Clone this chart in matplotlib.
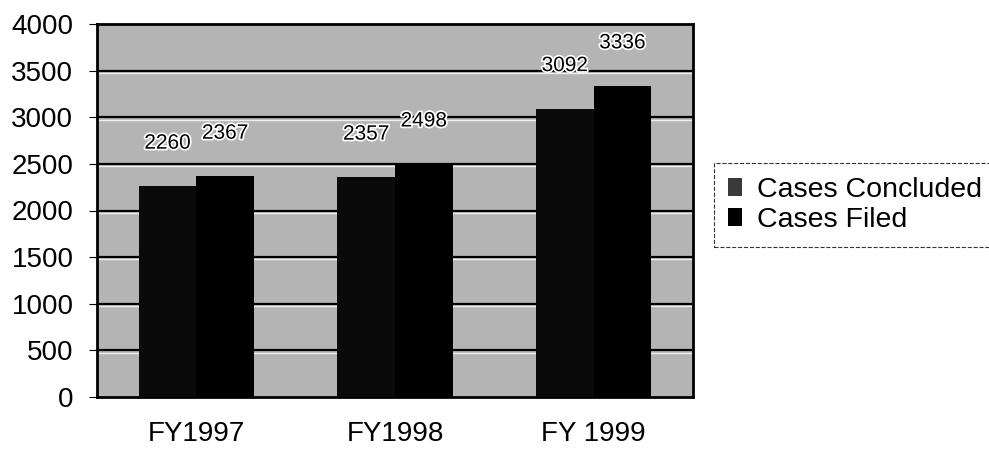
import numpy as np
import matplotlib
matplotlib.use('Agg')
import matplotlib.pyplot as plt
import matplotlib.patheffects as pe

years = ['FY1997', 'FY1998', 'FY 1999']
concluded = [2260, 2357, 3092]
filed = [2367, 2498, 3336]
yticks = [0, 500, 1000, 1500, 2000, 2500, 3000, 3500, 4000]

plt.rcParams['font.family'] = ['Liberation Sans', 'DejaVu Sans']

fig = plt.figure(figsize=(9.89, 4.5), dpi=100)
ax = fig.add_axes([97 / 989, 1 - 397 / 450, 596 / 989, 373 / 450])
ax.set_facecolor('#b4b4b4')

x = np.arange(len(years))
w = 0.29
b1 = ax.bar(x - w / 2, concluded, w, color='#0a0a0a', label='Cases Concluded', zorder=3)
b2 = ax.bar(x + w / 2, filed, w, color='black', label='Cases Filed', zorder=3)

for bars, vals in ((b1, concluded), (b2, filed)):
    for r, v in zip(bars, vals):
        ax.text(r.get_x() + r.get_width() / 2, v + 360, str(v), ha='center',
                va='bottom', fontsize=15, zorder=4,
                path_effects=[pe.withStroke(linewidth=2.5, foreground='white')])

ax.set_xlim(-0.5, 2.5)
ax.set_ylim(0, 4000)
ax.set_yticks(yticks)
ax.set_xticks(x)
ax.set_xticklabels(years, fontsize=20)
ax.tick_params(axis='y', labelsize=20, length=6, width=0.8, pad=11)
ax.tick_params(axis='x', length=0, pad=17)
for t in yticks[1:-1]:
    ax.axhline(t, color='black', lw=1.6, zorder=1)
    ax.axhline(t - 25, color='#eeeeee', lw=1, zorder=1)
for s in ax.spines.values():
    s.set_color('black')
    s.set_linewidth(2)

leg = fig.legend(handles=[b1, b2], loc='upper left', bbox_to_anchor=(714 / 989, 1 - 163 / 450),
                 fontsize=20.5, frameon=True, fancybox=False, handlelength=0.5,
                 handleheight=0.6, handletextpad=0.5, borderpad=0.5, labelspacing=0.12,
                 borderaxespad=0)
leg.get_frame().set_edgecolor('black')
leg.get_frame().set_linestyle('--')
leg.get_frame().set_linewidth(0.8)
leg.legend_handles[0].set_facecolor('#3a3a3a')

fig.savefig('out.png', dpi=100)
